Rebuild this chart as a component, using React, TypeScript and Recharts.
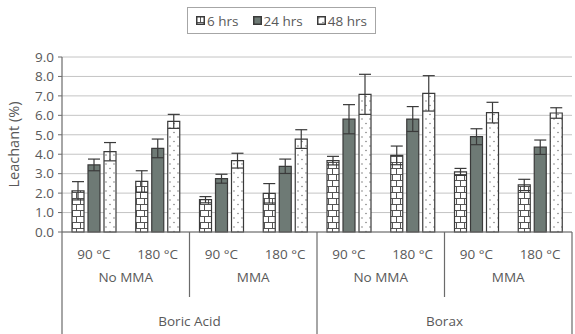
import React from "react";
import { BarChart, Bar, XAxis, YAxis, CartesianGrid, ErrorBar } from "recharts";

// Treatment categories (innermost to outermost axis level)
const temps = ["90 °C", "180 °C", "90 °C", "180 °C", "90 °C", "180 °C", "90 °C", "180 °C"];
const mmaGroups = ["No MMA", "MMA", "No MMA", "MMA"];
const baseGroups = ["Boric Acid", "Borax"];

// Leachant (%) after each leaching duration, with standard deviation
const hrs6 = [2.12, 2.6, 1.66, 1.99, 3.67, 3.94, 3.09, 2.42];
const err6 = [0.47, 0.55, 0.16, 0.5, 0.22, 0.48, 0.18, 0.29];
const hrs24 = [3.45, 4.3, 2.74, 3.38, 5.8, 5.81, 4.9, 4.36];
const err24 = [0.3, 0.48, 0.23, 0.37, 0.75, 0.64, 0.41, 0.37];
const hrs48 = [4.13, 5.69, 3.67, 4.78, 7.08, 7.13, 6.14, 6.12];
const err48 = [0.47, 0.36, 0.38, 0.48, 1.03, 0.91, 0.53, 0.27];

const yTicks = [0, 1, 2, 3, 4, 5, 6, 7, 8, 9];
const seriesNames = ["6 hrs", "24 hrs", "48 hrs"];

const data = temps.map((t, i) => ({
  temp: t,
  h6: hrs6[i],
  e6: err6[i],
  h24: hrs24[i],
  e24: err24[i],
  h48: hrs48[i],
  e48: err48[i],
}));

const FONT = "'Open Sans', 'Noto Sans', sans-serif";
const TEXT = "#595959";
const LINE = "#6b6b6b";
const EDGE = "#3a3a3a";
const DARK_FILL = "#6e7a75";
const FS = 13.5;

const fills = ["url(#pat6)", DARK_FILL, "url(#pat48)"];

const Patterns = () => (
  <svg width={0} height={0} style={{ position: "absolute" }}>
    <defs>
      <pattern id="pat6" patternUnits="userSpaceOnUse" width={8} height={12}>
        <rect width={8} height={12} fill="#ffffff" />
        <line x1={0} y1={0.5} x2={8} y2={0.5} stroke="#555" strokeWidth={1} />
        <line x1={0} y1={6.5} x2={8} y2={6.5} stroke="#555" strokeWidth={1} />
        <line x1={4.5} y1={0} x2={4.5} y2={6.5} stroke="#555" strokeWidth={1} />
        <line x1={0.5} y1={6.5} x2={0.5} y2={12} stroke="#555" strokeWidth={1} />
      </pattern>
      <pattern id="pat48" patternUnits="userSpaceOnUse" width={8} height={9}>
        <rect width={8} height={9} fill="#ffffff" />
        <circle cx={2} cy={2} r={0.7} fill="#666" />
        <circle cx={6} cy={6.5} r={0.7} fill="#666" />
      </pattern>
    </defs>
  </svg>
);

// Three-level category axis: temperature, MMA treatment, preservative
const GroupTick = (props: any) => {
  const { x, y, index, width } = props;
  const half = width / temps.length / 2;
  const items: React.ReactNode[] = [];
  items.push(
    <text key="t" x={x} y={y + 22} textAnchor="middle" dominantBaseline="central" fontSize={FS} fill={TEXT} fontFamily={FONT}>
      {temps[index]}
    </text>
  );
  if (index === 0) {
    items.push(<line key="l0" x1={x - half} y1={y} x2={x - half} y2={y + 102} stroke={LINE} strokeWidth={1.2} />);
  }
  if (index % 2 === 1) {
    const right = x + half;
    const full = index % 4 === 3;
    items.push(<line key="sep" x1={right} y1={y} x2={right} y2={full ? y + 102 : y + 65} stroke={LINE} strokeWidth={1.2} />);
    items.push(
      <text key="m" x={x - half} y={y + 45} textAnchor="middle" dominantBaseline="central" fontSize={FS} fill={TEXT} fontFamily={FONT}>
        {mmaGroups[(index - 1) / 2]}
      </text>
    );
  }
  if (index % 4 === 3) {
    items.push(
      <text key="b" x={x - 3 * half} y={y + 89} textAnchor="middle" dominantBaseline="central" fontSize={FS} fill={TEXT} fontFamily={FONT}>
        {baseGroups[(index - 3) / 4]}
      </text>
    );
  }
  return <g>{items}</g>;
};

const LegendIcon = ({ fill }: { fill: string }) => (
  <svg width={9} height={9} style={{ display: "block" }}>
    <rect x={0.75} y={0.75} width={7.5} height={7.5} fill={fill} stroke={EDGE} strokeWidth={1.5} />
  </svg>
);

export default function App() {
  return (
    <div style={{ position: "absolute", left: 0, top: 0, width: 575, height: 334, background: "#fff" }}>
      <Patterns />
      <div
        style={{
          position: "absolute",
          left: 187,
          top: 7,
          width: 187,
          height: 25,
          border: "1px solid #a6a6a6",
          display: "flex",
          alignItems: "center",
          justifyContent: "center",
          gap: 14,
          fontFamily: FONT,
          fontSize: FS,
          color: TEXT,
          zIndex: 2,
        }}
      >
        {seriesNames.map((n, i) => (
          <div key={n} style={{ display: "flex", alignItems: "center", gap: 2 }}>
            <LegendIcon fill={fills[i]} />
            <span>{n}</span>
          </div>
        ))}
      </div>
      <BarChart
        width={575}
        height={334}
        data={data}
        margin={{ top: 57, right: 3, bottom: 0, left: 22 }}
        barSize={12}
        barGap={4}
      >
        <CartesianGrid vertical={false} stroke="#c4c4c4" strokeWidth={1} />
        <XAxis
          dataKey="temp"
          interval={0}
          height={102}
          tickSize={0}
          tickMargin={0}
          tickLine={false}
          axisLine={{ stroke: LINE, strokeWidth: 1.2 }}
          tick={<GroupTick />}
        />
        <YAxis
          width={40}
          domain={[0, 9]}
          ticks={yTicks}
          interval={0}
          tickSize={4}
          tickMargin={4}
          tickFormatter={(v: number) => v.toFixed(1)}
          axisLine={{ stroke: LINE, strokeWidth: 1.2 }}
          tickLine={{ stroke: LINE }}
          tick={{ fontSize: FS, fill: TEXT, fontFamily: FONT }}
          label={{
            value: "Leachant (%)",
            angle: -90,
            position: "insideLeft",
            offset: -8,
            style: { textAnchor: "middle", fontSize: 14.5, fill: TEXT, fontFamily: FONT },
          }}
        />
        <Bar dataKey="h6" name={seriesNames[0]} fill={fills[0]} stroke={EDGE} strokeWidth={1.2} isAnimationActive={false}>
          <ErrorBar dataKey="e6" width={6} stroke={EDGE} strokeWidth={1.2} />
        </Bar>
        <Bar dataKey="h24" name={seriesNames[1]} fill={fills[1]} stroke={EDGE} strokeWidth={1.2} isAnimationActive={false}>
          <ErrorBar dataKey="e24" width={6} stroke={EDGE} strokeWidth={1.2} />
        </Bar>
        <Bar dataKey="h48" name={seriesNames[2]} fill={fills[2]} stroke={EDGE} strokeWidth={1.2} isAnimationActive={false}>
          <ErrorBar dataKey="e48" width={6} stroke={EDGE} strokeWidth={1.2} />
        </Bar>
      </BarChart>
    </div>
  );
}
